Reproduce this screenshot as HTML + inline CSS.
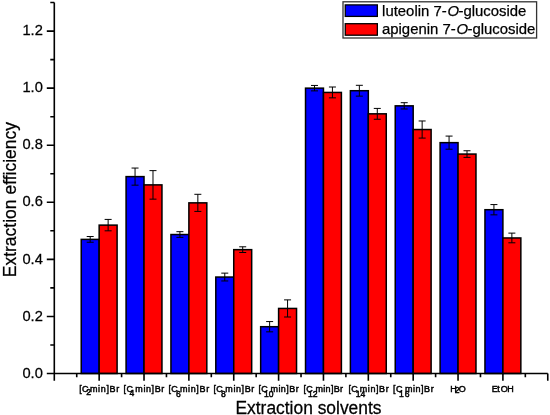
<!DOCTYPE html><html><head><meta charset="utf-8"><style>html,body{margin:0;padding:0;background:#fff;}svg{display:block;}text{font-family:"Liberation Sans",Arial,sans-serif;fill:#000;}.tl{stroke:#000;stroke-width:0.45px;}.t{stroke:#000;stroke-width:0.25px;}</style></head><body>
<svg width="550" height="415" viewBox="0 0 550 415">
<rect x="0" y="0" width="550" height="415" fill="#fff"/>
<rect x="81.22" y="239.39" width="17.94" height="134.11" fill="#0000ff" stroke="#000" stroke-width="1.5"/>
<rect x="99.16" y="225.12" width="17.94" height="148.38" fill="#ff0000" stroke="#000" stroke-width="1.5"/>
<rect x="126.08" y="176.61" width="17.94" height="196.89" fill="#0000ff" stroke="#000" stroke-width="1.5"/>
<rect x="144.02" y="184.88" width="17.94" height="188.62" fill="#ff0000" stroke="#000" stroke-width="1.5"/>
<rect x="170.94" y="234.53" width="17.94" height="138.97" fill="#0000ff" stroke="#000" stroke-width="1.5"/>
<rect x="188.88" y="202.86" width="17.94" height="170.64" fill="#ff0000" stroke="#000" stroke-width="1.5"/>
<rect x="215.80" y="277.05" width="17.94" height="96.45" fill="#0000ff" stroke="#000" stroke-width="1.5"/>
<rect x="233.74" y="249.66" width="17.94" height="123.84" fill="#ff0000" stroke="#000" stroke-width="1.5"/>
<rect x="260.66" y="326.70" width="17.94" height="46.80" fill="#0000ff" stroke="#000" stroke-width="1.5"/>
<rect x="278.60" y="308.44" width="17.94" height="65.06" fill="#ff0000" stroke="#000" stroke-width="1.5"/>
<rect x="305.52" y="88.15" width="17.94" height="285.35" fill="#0000ff" stroke="#000" stroke-width="1.5"/>
<rect x="323.46" y="92.43" width="17.94" height="281.07" fill="#ff0000" stroke="#000" stroke-width="1.5"/>
<rect x="350.38" y="90.72" width="17.94" height="282.78" fill="#0000ff" stroke="#000" stroke-width="1.5"/>
<rect x="368.32" y="113.83" width="17.94" height="259.67" fill="#ff0000" stroke="#000" stroke-width="1.5"/>
<rect x="395.24" y="105.84" width="17.94" height="267.66" fill="#0000ff" stroke="#000" stroke-width="1.5"/>
<rect x="413.18" y="129.53" width="17.94" height="243.97" fill="#ff0000" stroke="#000" stroke-width="1.5"/>
<rect x="440.10" y="142.65" width="17.94" height="230.85" fill="#0000ff" stroke="#000" stroke-width="1.5"/>
<rect x="458.04" y="154.07" width="17.94" height="219.43" fill="#ff0000" stroke="#000" stroke-width="1.5"/>
<rect x="484.96" y="209.71" width="17.94" height="163.79" fill="#0000ff" stroke="#000" stroke-width="1.5"/>
<rect x="502.90" y="237.96" width="17.94" height="135.54" fill="#ff0000" stroke="#000" stroke-width="1.5"/>
<path d="M90.19 236.53V242.24M86.69 236.53H93.69M86.69 242.24H93.69" stroke="#000" stroke-width="1.0" fill="none"/>
<path d="M108.13 219.41V230.82M104.63 219.41H111.63M104.63 230.82H111.63" stroke="#000" stroke-width="1.0" fill="none"/>
<path d="M135.05 168.05V185.17M131.55 168.05H138.55M131.55 185.17H138.55" stroke="#000" stroke-width="1.0" fill="none"/>
<path d="M152.99 170.62V199.15M149.49 170.62H156.49M149.49 199.15H156.49" stroke="#000" stroke-width="1.0" fill="none"/>
<path d="M179.91 231.68V237.39M176.41 231.68H183.41M176.41 237.39H183.41" stroke="#000" stroke-width="1.0" fill="none"/>
<path d="M197.85 194.30V211.42M194.35 194.30H201.35M194.35 211.42H201.35" stroke="#000" stroke-width="1.0" fill="none"/>
<path d="M224.77 273.14V280.96M221.27 273.14H228.27M221.27 280.96H228.27" stroke="#000" stroke-width="1.0" fill="none"/>
<path d="M242.71 246.80V252.51M239.21 246.80H246.21M239.21 252.51H246.21" stroke="#000" stroke-width="1.0" fill="none"/>
<path d="M269.63 321.57V331.84M266.13 321.57H273.13M266.13 331.84H273.13" stroke="#000" stroke-width="1.0" fill="none"/>
<path d="M287.57 299.88V317.00M284.07 299.88H291.07M284.07 317.00H291.07" stroke="#000" stroke-width="1.0" fill="none"/>
<path d="M314.49 85.44V90.86M310.99 85.44H317.99M310.99 90.86H317.99" stroke="#000" stroke-width="1.0" fill="none"/>
<path d="M332.43 87.01V97.85M328.93 87.01H335.93M328.93 97.85H335.93" stroke="#000" stroke-width="1.0" fill="none"/>
<path d="M359.35 85.30V96.14M355.85 85.30H362.85M355.85 96.14H362.85" stroke="#000" stroke-width="1.0" fill="none"/>
<path d="M377.29 108.41V119.25M373.79 108.41H380.79M373.79 119.25H380.79" stroke="#000" stroke-width="1.0" fill="none"/>
<path d="M404.21 102.70V108.98M400.71 102.70H407.71M400.71 108.98H407.71" stroke="#000" stroke-width="1.0" fill="none"/>
<path d="M422.15 120.97V138.09M418.65 120.97H425.65M418.65 138.09H425.65" stroke="#000" stroke-width="1.0" fill="none"/>
<path d="M449.07 136.09V149.21M445.57 136.09H452.57M445.57 149.21H452.57" stroke="#000" stroke-width="1.0" fill="none"/>
<path d="M467.01 150.76V157.38M463.51 150.76H470.51M463.51 157.38H470.51" stroke="#000" stroke-width="1.0" fill="none"/>
<path d="M493.93 204.57V214.85M490.43 204.57H497.43M490.43 214.85H497.43" stroke="#000" stroke-width="1.0" fill="none"/>
<path d="M511.87 233.11V242.81M508.37 233.11H515.37M508.37 242.81H515.37" stroke="#000" stroke-width="1.0" fill="none"/>
<path d="M54.3 2.54V380.70M54.3 373.5H547.76" stroke="#000" stroke-width="1.6" fill="none"/>
<path d="M46.80 373.50H54.3 M50.30 344.96H54.3 M46.80 316.43H54.3 M50.30 287.89H54.3 M46.80 259.36H54.3 M50.30 230.82H54.3 M46.80 202.29H54.3 M50.30 173.75H54.3 M46.80 145.22H54.3 M50.30 116.68H54.3 M46.80 88.15H54.3 M50.30 59.61H54.3 M46.80 31.08H54.3 M50.30 2.54H54.3 M76.73 373.5V377.30 M99.16 373.5V380.70 M121.59 373.5V377.30 M144.02 373.5V380.70 M166.45 373.5V377.30 M188.88 373.5V380.70 M211.31 373.5V377.30 M233.74 373.5V380.70 M256.17 373.5V377.30 M278.60 373.5V380.70 M301.03 373.5V377.30 M323.46 373.5V380.70 M345.89 373.5V377.30 M368.32 373.5V380.70 M390.75 373.5V377.30 M413.18 373.5V380.70 M435.61 373.5V377.30 M458.04 373.5V380.70 M480.47 373.5V377.30 M502.90 373.5V380.70 M525.33 373.5V377.30 M547.76 373.5V380.70" stroke="#000" stroke-width="1.6" fill="none"/>
<text transform="translate(42.80 377.70) scale(1 1.045)" font-size="14.7" text-anchor="end" class="t">0.0</text>
<text transform="translate(42.80 320.63) scale(1 1.045)" font-size="14.7" text-anchor="end" class="t">0.2</text>
<text transform="translate(42.80 263.56) scale(1 1.045)" font-size="14.7" text-anchor="end" class="t">0.4</text>
<text transform="translate(42.80 206.49) scale(1 1.045)" font-size="14.7" text-anchor="end" class="t">0.6</text>
<text transform="translate(42.80 149.42) scale(1 1.045)" font-size="14.7" text-anchor="end" class="t">0.8</text>
<text transform="translate(42.80 92.35) scale(1 1.045)" font-size="14.7" text-anchor="end" class="t">1.0</text>
<text transform="translate(42.80 35.28) scale(1 1.045)" font-size="14.7" text-anchor="end" class="t">1.2</text>
<g transform="translate(0 391.8) scale(1 1.08)">
<text x="79.16 82.04" y="0" font-size="9.0" class="tl">[C</text>
<text x="86.37" y="3.33" font-size="8.6" class="tl">2</text>
<text x="90.00 98.13 100.76 106.39 109.52 116.15" y="0" font-size="9.0" class="tl">min]Br</text>
<text x="123.56 126.44" y="0" font-size="9.0" class="tl">[C</text>
<text x="129.60" y="3.61" font-size="8.6" class="tl">4</text>
<text x="135.30 143.39 145.98 151.57 154.66 161.25" y="0" font-size="9.0" class="tl">min]Br</text>
<text x="168.46 171.34" y="0" font-size="9.0" class="tl">[C</text>
<text x="175.96" y="5.00" font-size="8.6" class="tl">6</text>
<text x="179.90 188.05 190.70 196.35 199.50 206.15" y="0" font-size="9.0" class="tl">min]Br</text>
<text x="213.46 216.34" y="0" font-size="9.0" class="tl">[C</text>
<text x="221.03" y="4.54" font-size="8.6" class="tl">8</text>
<text x="225.30 233.39 235.98 241.57 244.66 251.25" y="0" font-size="9.0" class="tl">min]Br</text>
<text x="258.46 261.34" y="0" font-size="9.0" class="tl">[C</text>
<text x="263.96 268.76" y="5.19" font-size="8.6" class="tl">10</text>
<text x="270.50 278.43 280.86 286.29 289.22 295.65" y="0" font-size="9.0" class="tl">min]Br</text>
<text x="303.46 306.34" y="0" font-size="9.0" class="tl">[C</text>
<text x="307.96 312.67" y="4.54" font-size="8.6" class="tl">12</text>
<text x="315.50 323.31 325.62 330.93 333.74 340.05" y="0" font-size="9.0" class="tl">min]Br</text>
<text x="348.46 351.34" y="0" font-size="9.0" class="tl">[C</text>
<text x="355.66 360.40" y="4.44" font-size="8.6" class="tl">14</text>
<text x="359.80 367.87 370.44 376.01 379.08 385.65" y="0" font-size="9.0" class="tl">min]Br</text>
<text x="393.06 395.94" y="0" font-size="9.0" class="tl">[C</text>
<text x="399.06 404.66" y="5.00" font-size="8.6" class="tl">16</text>
<text x="404.90 412.95 415.50 421.05 424.10 430.65" y="0" font-size="9.0" class="tl">min]Br</text>
<text x="450.26" y="0" font-size="9.0" class="tl">H</text>
<text x="454.77" y="0.83" font-size="8.6" class="tl">2</text>
<text x="458.67" y="0" font-size="9.0" class="tl">O</text>
<text x="491.86 497.16 500.87 507.26" y="0" font-size="9.0" class="tl">EtOH</text>
</g>
<text transform="translate(235.47 413.8) scale(0.9831 1)" font-size="17.7" class="t">Extraction solvents</text>
<text transform="translate(15.5 277.24) rotate(-90)" font-size="17.5" class="t">Extraction efficiency</text>
<rect x="343" y="1.8" width="193.6" height="36.2" fill="#fff" stroke="#333" stroke-width="1.3"/>
<rect x="345.25" y="4.9" width="32.1" height="11.5" fill="#0000ff" stroke="#000" stroke-width="1.3"/>
<rect x="345.25" y="23.7" width="32.1" height="11.5" fill="#ff0000" stroke="#000" stroke-width="1.3"/>
<text x="382.1" y="15.7" font-size="14.9" class="t">luteolin 7-<tspan font-style="italic" dx="0.9">O</tspan><tspan dx="-0.7">-glucoside</tspan></text>
<text x="382" y="34.0" font-size="14.9" class="t">apigenin 7-<tspan font-style="italic" dx="0.9">O</tspan><tspan dx="-0.7">-glucoside</tspan></text>
</svg></body></html>
